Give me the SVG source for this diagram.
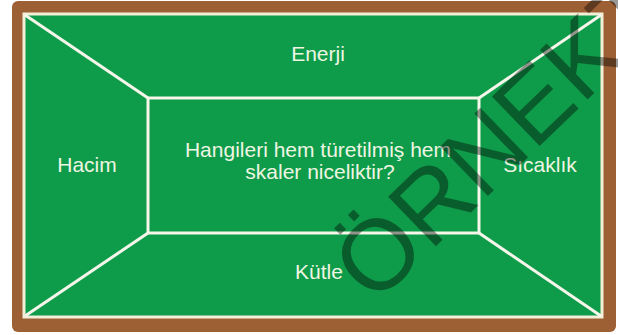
<svg xmlns="http://www.w3.org/2000/svg" width="618" height="335" viewBox="0 0 618 335">
  <style>
    .lbl { font-family: "Liberation Sans", Arial, sans-serif; font-size: 21px; fill: #eef5e2; text-anchor: middle; }
    .wl { stroke: #f6f6ea; stroke-width: 3; fill: none; }
    .wm { font-family: "Liberation Sans", Arial, sans-serif; font-size: 100px; fill: #000; fill-opacity: 0.4; }
  </style>
  <rect width="618" height="335" fill="#ffffff"/>
  <g id="frame">
    <rect x="12" y="1" width="604" height="331" rx="6" fill="#9c6034"/>
    <rect x="24" y="14" width="578" height="303" fill="#0f9c4a" stroke="#f3efd8" stroke-width="3"/>
  </g>
  <g id="connectors" class="wl">
    <line x1="25" y1="15" x2="148" y2="98"/>
    <line x1="601" y1="15" x2="479" y2="98"/>
    <line x1="25" y1="316" x2="148" y2="233"/>
    <line x1="601" y1="316" x2="479" y2="233"/>
  </g>
  <g id="question">
    <rect x="148" y="98" width="331" height="135" class="wl"/>
    <text class="lbl" x="318" y="157">Hangileri hem türetilmiş hem</text>
    <text class="lbl" x="320" y="179">skaler niceliktir?</text>
  </g>
  <g id="enerji"><text class="lbl" x="318" y="61">Enerji</text></g>
  <g id="hacim"><text class="lbl" x="87" y="172">Hacim</text></g>
  <g id="sicaklik"><text class="lbl" x="540" y="172">Sıcaklık</text></g>
  <g id="kutle"><text class="lbl" x="319" y="279">Kütle</text></g>
  <g id="watermark">
    <text class="wm" transform="translate(374 306) rotate(-44)" x="0" y="0">ÖRNEKT</text>
  </g>
</svg>
